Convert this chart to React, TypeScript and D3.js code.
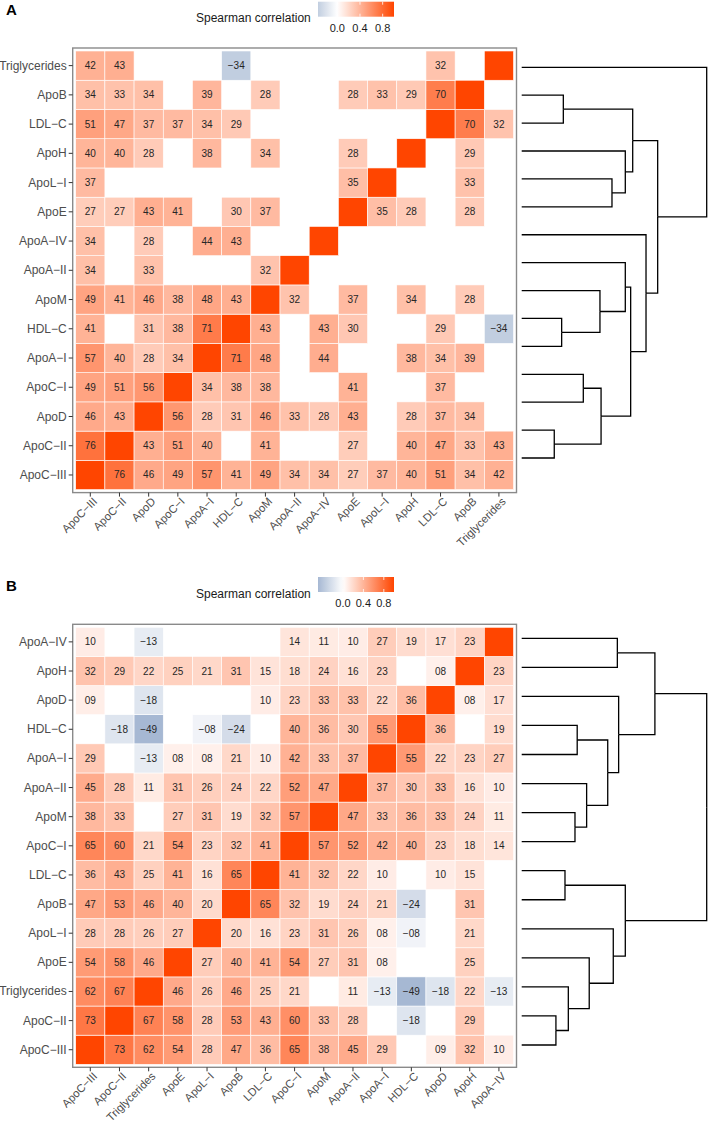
import React from "react";
import * as d3 from "d3";

// variable order (x axis, left to right); rows are drawn bottom to top in the same order
const varsA = ["ApoC-III", "ApoC-II", "ApoD", "ApoC-I", "ApoA-I", "HDL-C", "ApoM", "ApoA-II", "ApoA-IV", "ApoE", "ApoL-I", "ApoH", "LDL-C", "ApoB", "Triglycerides"];
const varsB = ["ApoC-III", "ApoC-II", "Triglycerides", "ApoE", "ApoL-I", "ApoB", "LDL-C", "ApoC-I", "ApoM", "ApoA-II", "ApoA-I", "HDL-C", "ApoD", "ApoH", "ApoA-IV"];

// significant spearman correlations x100 (null = not shown), rows follow vars order
const corrA: (number | null)[][] = [
  [100, 76, 46, 49, 57, 41, 49, 34, 34, 27, 37, 40, 51, 34, 42],
  [76, 100, 43, 51, 40, null, 41, null, null, 27, null, 40, 47, 33, 43],
  [46, 43, 100, 56, 28, 31, 46, 33, 28, 43, null, 28, 37, 34, null],
  [49, 51, 56, 100, 34, 38, 38, null, null, 41, null, null, 37, null, null],
  [57, 40, 28, 34, 100, 71, 48, null, 44, null, null, 38, 34, 39, null],
  [41, null, 31, 38, 71, 100, 43, null, 43, 30, null, null, 29, null, -34],
  [49, 41, 46, 38, 48, 43, 100, 32, null, 37, null, 34, null, 28, null],
  [34, null, 33, null, null, null, 32, 100, null, null, null, null, null, null, null],
  [34, null, 28, null, 44, 43, null, null, 100, null, null, null, null, null, null],
  [27, 27, 43, 41, null, 30, 37, null, null, 100, 35, 28, null, 28, null],
  [37, null, null, null, null, null, null, null, null, 35, 100, null, null, 33, null],
  [40, 40, 28, null, 38, null, 34, null, null, 28, null, 100, null, 29, null],
  [51, 47, 37, 37, 34, 29, null, null, null, null, null, null, 100, 70, 32],
  [34, 33, 34, null, 39, null, 28, null, null, 28, 33, 29, 70, 100, null],
  [42, 43, null, null, null, -34, null, null, null, null, null, null, 32, null, 100],
];

const corrB: (number | null)[][] = [
  [100, 73, 62, 54, 28, 47, 36, 65, 38, 45, 29, null, 9, 32, 10],
  [73, 100, 67, 58, 28, 53, 43, 60, 33, 28, null, -18, null, 29, null],
  [62, 67, 100, 46, 26, 46, 25, 21, null, 11, -13, -49, -18, 22, -13],
  [54, 58, 46, 100, 27, 40, 41, 54, 27, 31, 8, null, null, 25, null],
  [28, 28, 26, 27, 100, 20, 16, 23, 31, 26, 8, -8, null, 21, null],
  [47, 53, 46, 40, 20, 100, 65, 32, 19, 24, 21, -24, null, 31, null],
  [36, 43, 25, 41, 16, 65, 100, 41, 32, 22, 10, null, 10, 15, null],
  [65, 60, 21, 54, 23, 32, 41, 100, 57, 52, 42, 40, 23, 18, 14],
  [38, 33, null, 27, 31, 19, 32, 57, 100, 47, 33, 36, 33, 24, 11],
  [45, 28, 11, 31, 26, 24, 22, 52, 47, 100, 37, 30, 33, 16, 10],
  [29, null, -13, 8, 8, 21, 10, 42, 33, 37, 100, 55, 22, 23, 27],
  [null, -18, -49, null, -8, -24, null, 40, 36, 30, 55, 100, 36, null, 19],
  [9, null, -18, null, null, null, 10, 23, 33, 33, 22, 36, 100, 8, 17],
  [32, 29, 22, 25, 21, 31, 15, 18, 24, 16, 23, null, 8, 100, 23],
  [10, null, -13, null, null, null, null, 14, 11, 10, 27, 19, 17, 23, 100],
];

// dendrograms: [height, upper child, lower child], heights relative to the root
type Tree = string | [number, Tree, Tree];
const treeA: Tree = [1.0, "Triglycerides",
  [0.735,
    [0.6, [0.225, "ApoB", "LDL-C"], [0.56, "ApoH", [0.488, "ApoL-I", "ApoE"]]],
    [0.672, "ApoA-IV",
      [0.589,
        [0.56, "ApoA-II", [0.423, "ApoM", [0.216, "HDL-C", "ApoA-I"]]],
        [0.429, [0.333, "ApoC-I", "ApoD"], [0.176, "ApoC-II", "ApoC-III"]]]]]];
const treeB: Tree = [1.0,
  [0.72, [0.517, "ApoA-IV", "ApoH"],
    [0.524, "ApoD", [0.465, [0.3, "HDL-C", "ApoA-I"], [0.351, "ApoA-II", [0.288, "ApoM", "ApoC-I"]]]]],
  [0.56, [0.234, "LDL-C", "ApoB"],
    [0.495, "ApoL-I", [0.365, "ApoE", [0.252, "Triglycerides", [0.185, "ApoC-II", "ApoC-III"]]]]]];

const legendTicks = [0, 0.4, 0.8];

const FONT = "Liberation Sans, Arial, Helvetica, sans-serif";
const panelLeft = 72.7, panelRight = 516.5, pad = 3;
const dendroLeft = 521.7, dendroRight = 706.7;
const barLeft = 318, barRight = 394, barH = 15;

const fill = d3.scaleLinear<string>().domain([-1, 0, 1]).range(["#4a6fa5", "#ffffff", "#ff4500"]);
const fmt = (v: number) => (v < 0 ? "\u2212" : "") + String(Math.abs(v)).padStart(2, "0");
const disp = (s: string) => s.replace(/-/g, "\u2212");

interface PanelProps {
  id: string;
  tag: string;
  vars: string[];
  corr: (number | null)[][];
  tree: Tree;
  top: number;
  bottom: number;
  barTop: number;
  leafTop: number;
  leafBottom: number;
}

const Panel = ({ id, tag, vars, corr, tree, top, bottom, barTop, leafTop, leafBottom }: PanelProps) => {
  const x = d3.scaleBand<string>().domain(vars).range([panelLeft + pad, panelRight - pad]);
  const y = d3.scaleBand<string>().domain([...vars].reverse()).range([top + pad, bottom - pad]);

  const cells: { r: string; c: string; v: number; diag: boolean }[] = [];
  corr.forEach((row, i) =>
    row.forEach((v, j) => {
      if (v !== null) cells.push({ r: vars[i], c: vars[j], v, diag: i === j });
    })
  );

  // legend
  const minV = (d3.min(cells, (d) => d.v) as number) / 100;
  const lx = d3.scaleLinear().domain([minV, 1]).range([barLeft, barRight]);
  const stops = d3.range(0, 1.0001, 0.05).map((t) => minV + t * (1 - minV));

  // dendrogram
  const root = d3.hierarchy<Tree>(tree, (d) => (typeof d === "string" ? null : [d[1], d[2]]));
  const ly = d3.scalePoint<string>().domain([...vars].reverse()).range([leafTop, leafBottom]);
  const hx = d3.scaleLinear().domain([0, 1]).range([dendroLeft, dendroRight]);
  const pos = new Map<any, { x: number; y: number }>();
  root.eachAfter((n) => {
    const yy = n.children ? (d3.mean(n.children, (c) => pos.get(c)!.y) as number) : (ly(n.data as string) as number);
    const h = typeof n.data === "string" ? 0 : n.data[0];
    pos.set(n, { x: hx(h), y: yy });
  });
  const links = root.links().map((l) => {
    const s = pos.get(l.source)!, t = pos.get(l.target)!;
    return `M${t.x},${t.y}H${s.x}V${s.y}`;
  });

  const barMid = barTop + barH / 2;
  return (
    <g fontFamily={FONT}>
      <text x={6} y={barTop + 13.5} fontSize={15} fontWeight="bold" fill="#000">{tag}</text>

      {/* legend */}
      <defs>
        <linearGradient id={`grad-${id}`} x1="0" x2="1" y1="0" y2="0">
          {stops.map((s, i) => (
            <stop key={i} offset={(s - minV) / (1 - minV)} stopColor={fill(s)} />
          ))}
        </linearGradient>
      </defs>
      <text x={196} y={barMid + 9} fontSize={12} fill="#1a1a1a" dominantBaseline="central">Spearman correlation</text>
      <rect x={barLeft} y={barTop} width={barRight - barLeft} height={barH} fill={`url(#grad-${id})`} />
      {legendTicks.map((t) => (
        <g key={t} stroke="#fff" strokeWidth={0.8}>
          <line x1={lx(t)} x2={lx(t)} y1={barTop} y2={barTop + 3} />
          <line x1={lx(t)} x2={lx(t)} y1={barTop + barH - 3} y2={barTop + barH} />
        </g>
      ))}
      {legendTicks.map((t) => (
        <text key={t} x={lx(t)} y={barTop + barH + 11} fontSize={11} fill="#1a1a1a" textAnchor="middle" dominantBaseline="central">
          {t.toFixed(1)}
        </text>
      ))}

      {/* heatmap */}
      {cells.map((d, i) => (
        <rect key={i} x={x(d.c)} y={y(d.r)} width={x.bandwidth()} height={y.bandwidth()}
          fill={fill(d.v / 100)} stroke="#fff" strokeWidth={0.6} />
      ))}
      {cells.filter((d) => !d.diag).map((d, i) => (
        <text key={i} x={(x(d.c) as number) + x.bandwidth() / 2} y={(y(d.r) as number) + y.bandwidth() / 2}
          fontSize={10} fill="#262626" textAnchor="middle" dominantBaseline="central">
          {fmt(d.v)}
        </text>
      ))}
      <rect x={panelLeft} y={top} width={panelRight - panelLeft} height={bottom - top} fill="none" stroke="#8a8a8a" strokeWidth={1.4} />

      {/* axes */}
      {y.domain().map((v) => {
        const cy = (y(v) as number) + y.bandwidth() / 2;
        return (
          <g key={v}>
            <line x1={panelLeft - 4} x2={panelLeft} y1={cy} y2={cy} stroke="#333" strokeWidth={1} />
            <text x={panelLeft - 6} y={cy} fontSize={12} fill="#4d4d4d" textAnchor="end" dominantBaseline="central">{disp(v)}</text>
          </g>
        );
      })}
      {x.domain().map((v) => {
        const cx = (x(v) as number) + x.bandwidth() / 2;
        return (
          <g key={v}>
            <line x1={cx} x2={cx} y1={bottom} y2={bottom + 4} stroke="#333" strokeWidth={1} />
            <text transform={`translate(${cx + 2},${bottom + 4}) rotate(-45)`} fontSize={11.3} fill="#4d4d4d" textAnchor="end" dy="0.7em">{disp(v)}</text>
          </g>
        );
      })}

      {/* dendrogram */}
      {links.map((d, i) => (
        <path key={i} d={d} fill="none" stroke="#000" strokeWidth={1.3} />
      ))}
    </g>
  );
};

export default function App() {
  return (
    <svg width={709} height={1125} style={{ position: "absolute", left: 0, top: 0, background: "#fff" }}>
      <rect width={709} height={1125} fill="#fff" />
      <Panel id="a" tag="A" vars={varsA} corr={corrA} tree={treeA} top={48} bottom={492.6} barTop={1.7} leafTop={67.3} leafBottom={458} />
      <Panel id="b" tag="B" vars={varsB} corr={corrB} tree={treeB} top={624.3} bottom={1067.3} barTop={577} leafTop={638.3} leafBottom={1045} />
    </svg>
  );
}
